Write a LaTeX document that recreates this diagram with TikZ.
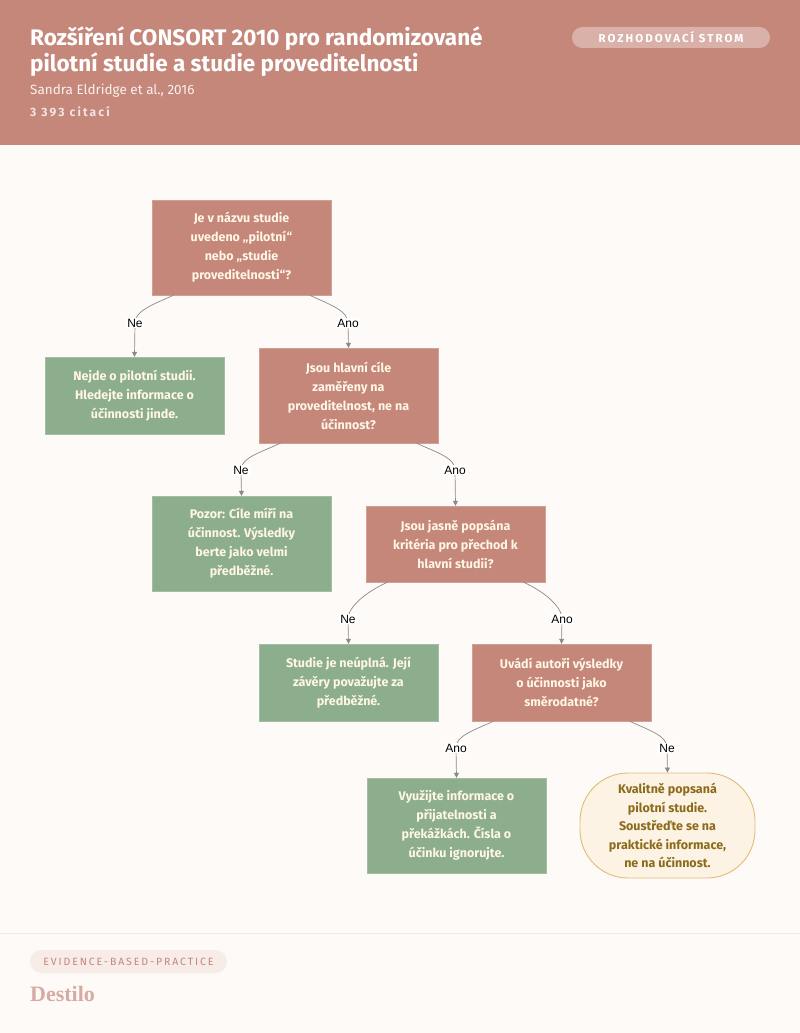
\documentclass[tikz,border=0pt]{standalone}
\usepackage{fontspec}
\setmainfont{Fira Sans}
\newfontfamily\boxfont{Fira Sans}
\newfontfamily\capsfont[LetterSpace=18]{Fira Sans}
\newfontfamily\lblfont{Liberation Sans}
\newfontfamily\logofont{Liberation Serif}
\usetikzlibrary{calc,arrows.meta}
\definecolor{rose}{HTML}{C4877A}
\definecolor{sage}{HTML}{8CAE8C}
\definecolor{paper}{HTML}{FEFAF7}
\definecolor{cream}{HTML}{FDF3E5}
\definecolor{gold}{HTML}{E2BC75}
\definecolor{goldtext}{HTML}{8B6A1A}
\definecolor{boxtext}{HTML}{FFF6E6}
\definecolor{edgegray}{HTML}{8A8A8A}
\def\branch[#1](#2)(#3)(#4){\draw[edge] (#2) .. controls ($(#2)+(#1*22,10)$) and ($(#3)+(0,-12)$) .. (#3) -- (#4.north);}

\begin{document}
\begin{tikzpicture}[x=1pt,y=-1pt,
		question/.style={rectangle, fill=rose, draw=rose!80!white, minimum width=179, minimum height=95, align=center, text=boxtext, font=\boxfont\bfseries\fontsize{12.5}{19}\selectfont},
		leaf/.style={question, fill=sage, draw=sage!80!white},
		ending/.style={rectangle, rounded corners=48, fill=cream, draw=gold, line width=0.9pt, minimum width=175, minimum height=105, align=center, text=goldtext, font=\boxfont\bfseries\fontsize{12.5}{18.5}\selectfont},
		edge/.style={draw=edgegray, line width=0.7pt, -{Triangle[length=5pt,width=5pt]}},
		lbl/.style={fill=white, inner sep=1pt, text=black, font=\lblfont\fontsize{12}{13}\selectfont},
		head/.style={anchor=base west, inner xsep=0pt},
		pill/.style={rectangle, rounded corners=10.5, minimum height=21, inner sep=0pt}]
			%%%%% FRAME %%%%%
			\useasboundingbox (0,0) rectangle (800,1033);
			\fill[paper] (0,0) rectangle (800,1033);
			\fill[rose] (0,0) rectangle (800,145);
			
			\node[head, text=white, font=\bfseries\fontsize{22.5}{26}\selectfont] (title1) at (30,46) {Rozšíření CONSORT 2010 pro randomizované};
			\node[head, text=white, font=\bfseries\fontsize{22.5}{26}\selectfont] (title2) at (30,71) {pilotní studie a studie proveditelnosti};
			\node[head, text=white!88!rose, font=\fontsize{13.5}{16}\selectfont] (author) at (30,95) {Sandra Eldridge et al., 2016};
			\node[head, text=white!78!rose, font=\capsfont\bfseries\fontsize{12}{14}\selectfont] (cites) at (30,116) {3 393 citací};
			\node[pill, fill=rose!65!white, minimum width=198, text=white, font=\capsfont\bfseries\fontsize{11.5}{13}\selectfont] (kind) at (671,37.5) {ROZHODOVACÍ STROM};
			
			%%%%% TREE %%%%%
			\node[question] (q1) at (241.5,247.5) {Je v názvu studie\\uvedeno „pilotní“\\nebo „studie\\proveditelnosti“?};
			\node[leaf, minimum height=77] (l1) at (134.5,395.5) {Nejde o pilotní studii.\\Hledejte informace o\\účinnosti jinde.};
			\node[question] (q2) at (348.5,395.5) {Jsou hlavní cíle\\zaměřeny na\\proveditelnost, ne na\\účinnost?};
			\node[leaf] (l2) at (241.5,543.5) {Pozor: Cíle míří na\\účinnost. Výsledky\\berte jako velmi\\předběžné.};
			\node[question, minimum height=76] (q3) at (455.5,544) {Jsou jasně popsána\\kritéria pro přechod k\\hlavní studii?};
			\node[leaf, minimum height=77] (l3) at (348.5,682.5) {Studie je neúplná. Její\\závěry považujte za\\předběžné.};
			\node[question, minimum height=77] (q4) at (561.5,682.5) {Uvádí autoři výsledky\\o účinnosti jako\\směrodatné?};
			\node[leaf] (l4) at (456.5,825.5) {Využijte informace o\\přijatelnosti a\\překážkách. Čísla o\\účinku ignorujte.};
			\node[ending] (done) at (667.5,825.5) {Kvalitně popsaná\\pilotní studie.\\Soustřeďte se na\\praktické informace,\\ne na účinnost.};
			
			\coordinate (q1no) at ([xshift=-68]q1.south);
			\coordinate (q1yes) at ([xshift=68]q1.south);
			\coordinate (q2no) at ([xshift=-68]q2.south);
			\coordinate (q2yes) at ([xshift=68]q2.south);
			\coordinate (q3no) at ([xshift=-68]q3.south);
			\coordinate (q3yes) at ([xshift=68]q3.south);
			\coordinate (q4yes) at ([xshift=-68]q4.south);
			\coordinate (q4no) at ([xshift=68]q4.south);
			
			\coordinate (a1) at (135,323);
			\coordinate (b1) at (348,323);
			\coordinate (a2) at (241,470);
			\coordinate (b2) at (455,470);
			\coordinate (a3) at (348,619);
			\coordinate (b3) at (562,619);
			\coordinate (a4) at (456,748);
			\coordinate (b4) at (667,748);
			
			\branch[-1](q1no)(a1)(l1)
			\branch[1](q1yes)(b1)(q2)
			\branch[-1](q2no)(a2)(l2)
			\branch[1](q2yes)(b2)(q3)
			\branch[-1](q3no)(a3)(l3)
			\branch[1](q3yes)(b3)(q4)
			\branch[-1](q4yes)(a4)(l4)
			\branch[1](q4no)(b4)(done)
			
			\node[lbl] at (a1) {Ne};
			\node[lbl] at (b1) {Ano};
			\node[lbl] at (a2) {Ne};
			\node[lbl] at (b2) {Ano};
			\node[lbl] at (a3) {Ne};
			\node[lbl] at (b3) {Ano};
			\node[lbl] at (a4) {Ano};
			\node[lbl] at (b4) {Ne};
			
			%%%%% FOOTER %%%%%
			\draw[color=rose!15!paper, line width=0.8pt] (0,933) -- (800,933);
			\node[pill, fill=rose!12!paper, minimum width=197, minimum height=23, rounded corners=11.5, text=rose, font=\capsfont\fontsize{10.5}{12}\selectfont] (topic) at (128.5,961.5) {EVIDENCE-BASED-PRACTICE};
			\node[head, text=rose!70!white, font=\logofont\bfseries\fontsize{22}{24}\selectfont] (brand) at (30,1001) {Destilo};
		\end{tikzpicture}
\end{document}
